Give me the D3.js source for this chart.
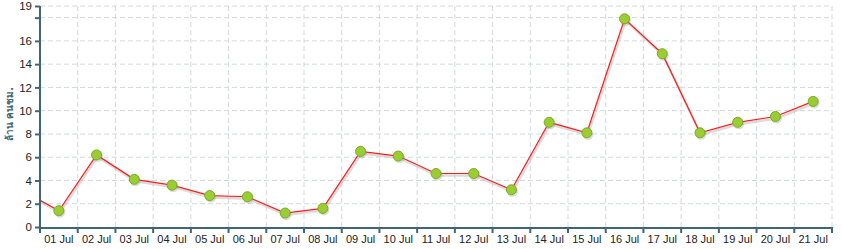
<!DOCTYPE html>
<html>
<head>
<meta charset="utf-8">
<script src="https://cdn.jsdelivr.net/npm/d3@7"></script>
<style>
  body { margin: 0; background: #fff; }
  svg { display: block; font-family: "DejaVu Sans", Verdana, sans-serif; }
</style>
</head>
<body>
<div id="chart"></div>
<script>
// categories (days shown) and the value of the day before, which sits off the left edge
const days = ["01 Jul","02 Jul","03 Jul","04 Jul","05 Jul","06 Jul","07 Jul","08 Jul","09 Jul","10 Jul","11 Jul",
              "12 Jul","13 Jul","14 Jul","15 Jul","16 Jul","17 Jul","18 Jul","19 Jul","20 Jul","21 Jul"];
const viewers = [1.4, 6.2, 4.1, 3.6, 2.7, 2.6, 1.2, 1.6, 6.5, 6.1, 4.6,
                 4.6, 3.2, 9.0, 8.1, 17.9, 14.9, 8.1, 9.0, 9.5, 10.8];
const prevDay = "30 Jun";
const prevValue = 3.2;
const yTicks = [0, 2, 4, 6, 8, 10, 12, 14, 16, 18, 19];
const yLabel = "ล้าน คนชม.";

drawChart();

function drawChart() {
    const width = 842, height = 249;
    const margin = {top: 6, right: 10, bottom: 22, left: 40};
    const w = width - margin.left - margin.right;
    const h = height - margin.top - margin.bottom;

    const svg = d3.select("#chart")
        .append("svg")
        .attr("width", width)
        .attr("height", height);

    svg.append("defs").append("clipPath").attr("id", "plotclip")
        .append("rect").attr("x", 0).attr("y", -10).attr("width", w).attr("height", h + 20);

    const g = svg.append("g")
        .attr("transform", "translate(" + margin.left + "," + margin.top + ")");

    const x = d3.scaleBand()
        .domain(days)
        .range([0, w])
        .padding(0);

    const y = d3.scaleLinear()
        .domain([0, 19])
        .range([h, 0]);

    const cx = d => x(d) + x.bandwidth() / 2;

    // grid
    const grid = g.append("g").attr("class", "grid");
    grid.selectAll(".hgrid")
        .data(yTicks.filter(t => t > 0))
        .enter().append("line")
        .attr("x1", 0).attr("x2", w)
        .attr("y1", d => y(d)).attr("y2", d => y(d))
        .attr("stroke", "#d3d9de")
        .attr("stroke-dasharray", "5,3");
    grid.selectAll(".vgrid")
        .data(days.slice(1).concat(["end"]))
        .enter().append("line")
        .attr("x1", (d, i) => i < days.length - 1 ? x(d) : w)
        .attr("x2", (d, i) => i < days.length - 1 ? x(d) : w)
        .attr("y1", 0).attr("y2", h)
        .attr("stroke", "#d3d9de")
        .attr("stroke-dasharray", "5,3");

    // data with the previous day added in front
    const pts = [{day: prevDay, v: prevValue, px: cx(days[0]) - x.bandwidth()}]
        .concat(days.map((d, i) => ({day: d, v: viewers[i], px: cx(d)})));

    const line = d3.line()
        .x(d => d.px)
        .y(d => y(d.v));

    const plot = g.append("g").attr("clip-path", "url(#plotclip)");

    // soft shadow under the line
    plot.append("path")
        .datum(pts)
        .attr("d", line)
        .attr("transform", "translate(1,2)")
        .attr("fill", "none")
        .attr("stroke", "#c4c4c4")
        .attr("stroke-opacity", 0.6)
        .attr("stroke-width", 2.5);

    plot.append("path")
        .datum(pts)
        .attr("d", line)
        .attr("fill", "none")
        .attr("stroke", "#ff1a1a")
        .attr("stroke-width", 1.2);

    const pointData = pts.slice(1);
    g.selectAll(".shadow")
        .data(pointData)
        .enter().append("circle")
        .attr("cx", d => d.px + 1)
        .attr("cy", d => y(d.v) + 1.5)
        .attr("r", 5.5)
        .attr("fill", "#888")
        .attr("fill-opacity", 0.3);

    g.selectAll(".dot")
        .data(pointData)
        .enter().append("circle")
        .attr("class", "dot")
        .attr("cx", d => d.px)
        .attr("cy", d => y(d.v))
        .attr("r", 5)
        .attr("fill", "#9acd32")
        .attr("stroke", "#7cab25")
        .attr("stroke-width", 1);

    // axes
    const axisColor = "#3f6674";

    const xAxis = g.append("g")
        .attr("transform", "translate(0," + h + ")")
        .call(d3.axisBottom(x).tickSize(0).tickPadding(8));
    xAxis.select(".domain").remove();
    xAxis.selectAll("text")
        .attr("font-size", "11px")
        .attr("fill", "#222");
    xAxis.append("line")
        .attr("x1", -1).attr("x2", w + 1)
        .attr("y1", 1).attr("y2", 1)
        .attr("stroke", axisColor)
        .attr("stroke-width", 2);
    xAxis.selectAll(".xtick")
        .data(days.concat(["end"]))
        .enter().append("line")
        .attr("x1", (d, i) => i < days.length ? x(d) : w)
        .attr("x2", (d, i) => i < days.length ? x(d) : w)
        .attr("y1", 0).attr("y2", 6)
        .attr("stroke", axisColor)
        .attr("stroke-width", 2);

    const yAxis = g.append("g")
        .call(d3.axisLeft(y).tickValues(yTicks).tickSize(5).tickPadding(3)
            .tickFormat(d => d === 18 ? "" : d));
    yAxis.select(".domain").remove();
    yAxis.selectAll(".tick line")
        .attr("stroke", axisColor)
        .attr("stroke-width", 2);
    yAxis.selectAll("text")
        .attr("font-size", "11.5px")
        .attr("fill", "#222");
    yAxis.append("line")
        .attr("x1", 0).attr("x2", 0)
        .attr("y1", 0).attr("y2", h + 2)
        .attr("stroke", axisColor)
        .attr("stroke-width", 2);

    // y label
    svg.append("text")
        .attr("transform", "translate(13," + (margin.top + y(9.7)) + ") rotate(-90)")
        .attr("text-anchor", "middle")
        .attr("font-size", "10px")
        .attr("font-weight", "bold")
        .attr("fill", axisColor)
        .text(yLabel);
}
</script>
</body>
</html>
